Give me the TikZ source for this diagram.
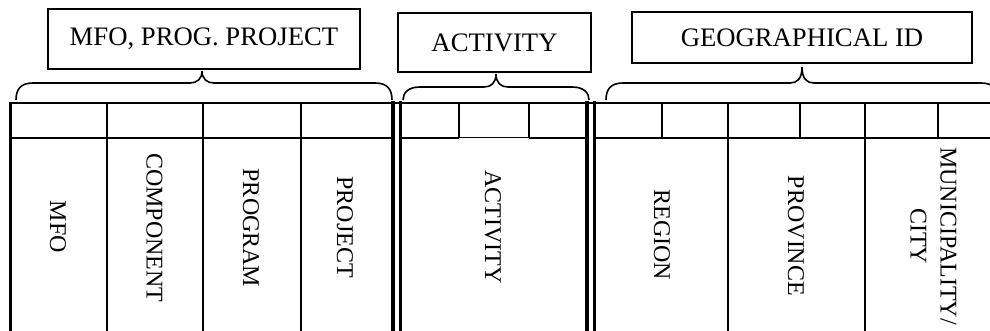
\documentclass[tikz,border=0pt]{standalone}
\usepackage{fontspec}
\setmainfont{Liberation Serif}
\newcommand\mybrace[5]{%
  \draw[brc] (#1,100) .. controls (#1,{#4+6}) and ({#1+5},#4) .. ({#1+17},#4)
    -- ({#3-12},#4) .. controls ({#3-5},#4) and (#3,{#4-4}) .. (#3,#5)
    .. controls (#3,{#4-4}) and ({#3+5},#4) .. ({#3+12},#4)
    -- ({#2-17},#4) .. controls ({#2-5},#4) and (#2,{#4+6}) .. (#2,100);}
\begin{document}
\begin{tikzpicture}[x=1pt,y=-1pt,
  hdr/.style={draw,line width=1.5pt,font=\fontsize{26.7}{31}\selectfont,inner sep=0pt},
  lbl/.style={rotate=-90,font=\fontsize{24}{30}\selectfont,inner sep=0pt,align=center},
  grid/.style={line width=1.8pt},
  thin/.style={line width=1pt},
  dbl/.style={line width=3.8pt},
  brc/.style={line width=1.6pt}]
\useasboundingbox (0,0) rectangle (990,331);
\clip (0,0) rectangle (990,331);
% header boxes
\node[hdr,minimum width=312pt,minimum height=60pt,text depth=4pt] (mfo) at (204,39) {MFO, PROG. PROJECT};
\node[hdr,minimum width=193pt,minimum height=59pt] (act) at (494.5,42.5) {ACTIVITY};
\node[hdr,minimum width=340pt,minimum height=51pt] (geo) at (802,37.5) {GEOGRAPHICAL ID};
% braces
\mybrace{16}{392}{202}{83}{71}
\mybrace{403}{589}{496}{87}{74}
\mybrace{606}{998}{802}{83}{67}
% table horizontals
\draw[grid] (10,103) -- (995,103);
\draw[grid] (10,138) -- (393,138);
\draw[grid] (401,138) -- (459,138);
\draw[thin] (459,138) -- (529,138);
\draw[grid] (529,138) -- (587,138);
\draw[grid] (594,138) -- (995,138);
% left border
\draw[line width=3pt] (10,102) -- (10,340);
% full verticals
\foreach \x in {107,203,301,728,865}
  \draw[grid] (\x,103) -- (\x,340);
% top row only verticals
\foreach \x in {459,529,662,800,938}
  \draw[grid] (\x,103) -- (\x,138);
% double lines
\foreach \x in {393,400.5,587,594.5}
  \draw[dbl] (\x,101.5) -- (\x,340);
% column labels
\node[lbl] (lmfo) at (58,227) {MFO};
\node[lbl] (lcomp) at (154.5,228) {COMPONENT};
\node[lbl] (lprog) at (251,228) {PROGRAM};
\node[lbl] (lproj) at (345,227) {PROJECT};
\node[lbl] (lact) at (493,227) {ACTIVITY};
\node[lbl] (lreg) at (662,235) {REGION};
\node[lbl] (lprov) at (796,236) {PROVINCE};
\node[lbl] (lmun) at (933.5,236) {MUNICIPALITY/\\CITY};
\end{tikzpicture}
\end{document}
